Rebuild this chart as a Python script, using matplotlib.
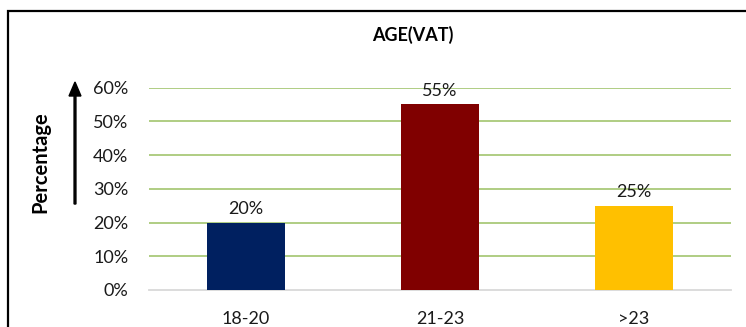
import matplotlib.pyplot as plt
from matplotlib.patches import Rectangle, FancyArrow
from matplotlib.ticker import PercentFormatter

categories = ['18-20', '21-23', '>23']
values = [0.20, 0.55, 0.25]
colors = ['#002060', '#800000', '#FFC000']
yticks = [0, 0.1, 0.2, 0.3, 0.4, 0.5, 0.6]

plt.rcParams['font.family'] = ['Lato', 'DejaVu Sans']

fig = plt.figure(figsize=(7.46, 3.27), dpi=100)
fig.patch.set_facecolor('white')
ax = fig.add_axes([149 / 746, 37 / 327, 582 / 746, 202.5 / 327])

x = range(len(categories))
bars = ax.bar(x, values, width=0.4, color=colors, zorder=3)
for b, v in zip(bars, values):
    ax.annotate(f'{v:.0%}', (b.get_x() + b.get_width() / 2, v),
                xytext=(0, 4), textcoords='offset points',
                ha='center', va='bottom', fontsize=13, color='#1a1a1a')

ax.set_xlim(-0.5, len(categories) - 0.5)
ax.set_ylim(0, 0.6)
ax.set_yticks(yticks)
ax.yaxis.set_major_formatter(PercentFormatter(1.0, decimals=0))
ax.set_xticks(list(x))
ax.set_xticklabels(categories)
ax.tick_params(axis='both', length=0, labelsize=13, colors='#1a1a1a')
ax.tick_params(axis='y', pad=15)
ax.tick_params(axis='x', pad=15)

ax.grid(axis='y', color='#A9C97A', linewidth=1.3, zorder=0)
ax.set_axisbelow(True)
for s in ['top', 'right', 'left']:
    ax.spines[s].set_visible(False)
ax.spines['bottom'].set_color('#D9D9D9')
ax.spines['bottom'].set_linewidth(1.3)
ax.get_ygridlines()[0].set_visible(False)

# title and axis label
fig.text(413 / 746, 1 - 35 / 327, 'AGE(VAT)', ha='center', va='center',
         fontsize=13, fontweight='bold')
fig.text(40 / 746, 1 - 162 / 327, 'Percentage', ha='center', va='center',
         rotation=90, fontsize=14.5, fontweight='bold')

# arrow next to the label
fig.patches.append(FancyArrow(75 / 746, 1 - 204 / 327, 0, (204 - 96) / 327,
                              width=0.0025, head_width=0.016,
                              head_length=14 / 327, length_includes_head=False,
                              color='black', transform=fig.transFigure))

# chart frame
fig.patches.append(Rectangle((8 / 746, -0.1), 1.2, 1 - 11 / 327 + 0.1,
                             fill=False, edgecolor='black', linewidth=1.6,
                             transform=fig.transFigure))

fig.savefig('out.png', dpi=100)
